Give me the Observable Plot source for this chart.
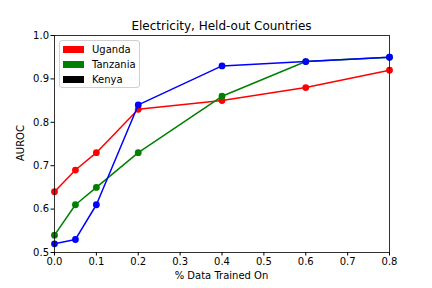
<!DOCTYPE html>
<html>
<head>
<meta charset="utf-8">
<script src="https://cdn.jsdelivr.net/npm/d3@7"></script>
<script src="https://cdn.jsdelivr.net/npm/@observablehq/plot@0.6"></script>
<style>
  html, body { margin: 0; padding: 0; background: #fff; }
  #wrap { position: relative; width: 432px; height: 288px; font-family: "DejaVu Sans", sans-serif; color: #000; }
  #wrap svg { position: absolute; left: 0; top: 0; }
  .title { position: absolute; left: 54px; width: 335px; top: 19px; text-align: center; font-size: 12px; }
  .xlabel { position: absolute; left: 54px; width: 335px; top: 270px; text-align: center; font-size: 10px; }
  .ylabel { position: absolute; left: 20px; top: 143px; font-size: 10px; transform: translate(-50%, -50%) rotate(-90deg); white-space: nowrap; }
  .legend { position: absolute; left: 59px; top: 40px; width: 79px; height: 46px; border: 1px solid #d0d0d0; border-radius: 3px; background: rgba(255,255,255,0.8); font-size: 10px; }
  .legend .row { position: absolute; left: 3px; height: 12px; display: flex; align-items: center; }
  .legend .sw { width: 21px; height: 7px; margin-right: 8px; }
</style>
</head>
<body>
<div id="wrap"></div>
<script>
const xValues = [0, 0.05, 0.1, 0.2, 0.4, 0.6, 0.8];
const uganda   = [0.64, 0.69, 0.73, 0.83, 0.85, 0.88, 0.92];
const tanzania = [0.54, 0.61, 0.65, 0.73, 0.86, 0.94, 0.95];
const kenya    = [0.52, 0.53, 0.61, 0.84, 0.93, 0.94, 0.95];
const seriesNames = ["Uganda", "Tanzania", "Kenya"];
const seriesColors = ["#ff0000", "#008000", "#0000ff"];
const legendColors = ["#ff0000", "#008000", "#000000"];
const xTicks = [0, 0.1, 0.2, 0.3, 0.4, 0.5, 0.6, 0.7, 0.8];
const yTicks = [0.5, 0.6, 0.7, 0.8, 0.9, 1.0];

const seriesValues = [uganda, tanzania, kenya];
const data = seriesNames.flatMap((name, i) =>
  xValues.map((x, j) => ({series: name, x, y: seriesValues[i][j]})));

const marks = [];
seriesNames.forEach((name, i) => {
  const d = data.filter(r => r.series === name);
  marks.push(Plot.line(d, {x: "x", y: "y", stroke: seriesColors[i], strokeWidth: 1.5}));
  marks.push(Plot.dot(d, {x: "x", y: "y", fill: seriesColors[i], r: 3.4, stroke: "none"}));
});

const chart = Plot.plot({
  width: 432,
  height: 288,
  marginLeft: 54,
  marginRight: 43,
  marginTop: 35,
  marginBottom: 36,
  style: {fontFamily: "DejaVu Sans, sans-serif", fontSize: "10px", color: "#000", background: "transparent", overflow: "visible"},
  x: {domain: [0, 0.8]},
  y: {domain: [0.5, 1.0]},
  marks: [
    ...marks,
    Plot.frame({stroke: "#000", strokeWidth: 0.8}),
    Plot.axisX({ticks: xTicks, tickFormat: d3.format(".1f"), tickSize: 3.5, tickPadding: 2, label: null, fontSize: 10}),
    Plot.axisY({ticks: yTicks, tickFormat: d3.format(".1f"), tickSize: 3.5, tickPadding: 2, label: null, fontSize: 10})
  ]
});

const wrap = document.getElementById("wrap");
wrap.appendChild(chart);

const title = document.createElement("div");
title.className = "title";
title.textContent = "Electricity, Held-out Countries";
wrap.appendChild(title);

const xl = document.createElement("div");
xl.className = "xlabel";
xl.textContent = "% Data Trained On";
wrap.appendChild(xl);

const yl = document.createElement("div");
yl.className = "ylabel";
yl.textContent = "AUROC";
wrap.appendChild(yl);

const legend = document.createElement("div");
legend.className = "legend";
seriesNames.forEach((name, i) => {
  const row = document.createElement("div");
  row.className = "row";
  row.style.top = (2 + i * 15) + "px";
  const sw = document.createElement("div");
  sw.className = "sw";
  sw.style.background = legendColors[i];
  row.appendChild(sw);
  const t = document.createElement("span");
  t.textContent = name;
  row.appendChild(t);
  legend.appendChild(row);
});
wrap.appendChild(legend);
</script>
</body>
</html>
